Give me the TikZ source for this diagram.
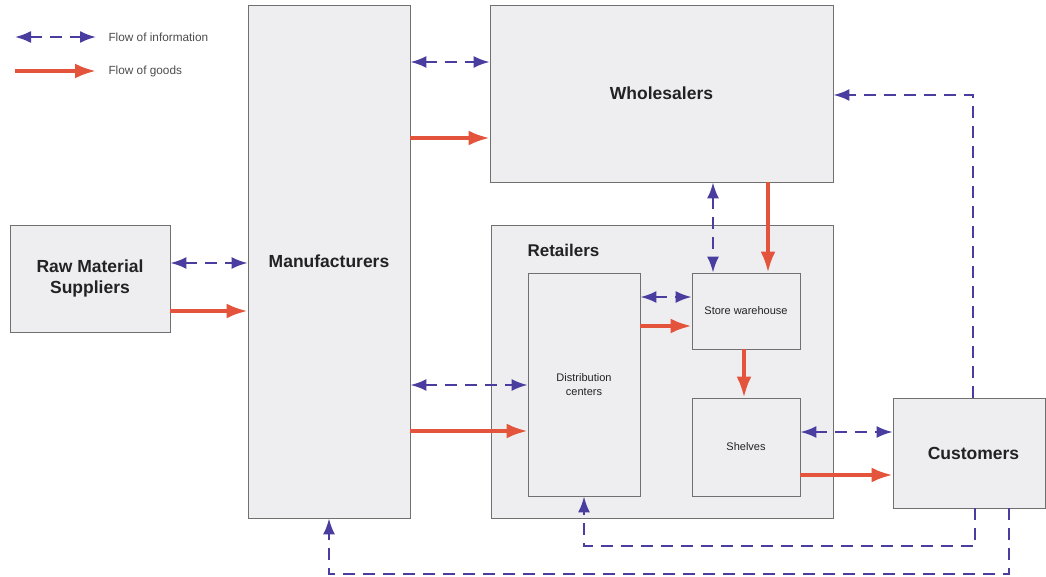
\documentclass[tikz,border=0pt]{standalone}
\usepackage{fontspec}
\setmainfont{Liberation Sans}
\usetikzlibrary{arrows.meta}
\definecolor{infoblue}{HTML}{4A3DA0}
\definecolor{goodsred}{HTML}{E4533C}
\definecolor{boxfill}{HTML}{EEEEF1}
\definecolor{boxline}{HTML}{707070}
\definecolor{labeltext}{HTML}{222222}
\tikzset{
  box/.style={draw=boxline, fill=boxfill, line width=0.9pt, inner sep=0pt,
    align=center, text=labeltext},
  bigbox/.style={box, font=\fontsize{17.5}{21}\selectfont\bfseries},
  smallbox/.style={box, font=\fontsize{11}{14}\selectfont},
  info/.style={draw=infoblue, line width=2pt, dash pattern=on 12pt off 8pt},
  infotip/.style={-{Latex[length=16pt,width=12pt]}},
  infoboth/.style={{Latex[length=16pt,width=12pt]}-{Latex[length=16pt,width=12pt]}},
  goods/.style={draw=goodsred, line width=3.5pt, -{Latex[length=21pt,width=15pt]}},
  legendtext/.style={anchor=west, font=\fontsize{11.8}{14}\selectfont, text=black!70}
}
\begin{document}
\begin{tikzpicture}[x=1pt,y=-1pt]
\useasboundingbox (0,0) rectangle (1046,577);

% legend
\coordinate (li1) at (15,37);  \coordinate (li2) at (96,37);
\coordinate (lg1) at (15,71);  \coordinate (lg2) at (96,71);
\draw[info,infoboth] (li1) -- (li2);
\draw[goods] (lg1) -- (lg2);
\node[legendtext] (lit) at (105,37) {Flow of information};
\node[legendtext] (lgt) at (105,71) {Flow of goods};

% boxes
\node[bigbox, minimum width=160pt, minimum height=107pt] (raw) at (90,278.5) {Raw Material\\Suppliers};
\node[bigbox, minimum width=162pt, minimum height=513pt] (man) at (329,261.5) {Manufacturers};
\node[bigbox, minimum width=343pt, minimum height=177pt] (wh) at (661.5,93.5) {Wholesalers};
\node[box, minimum width=342pt, minimum height=293pt] (ret) at (662,371.5) {};
\node[font=\fontsize{17}{20}\selectfont\bfseries, anchor=west, text=labeltext] (retl) at (524,250) {Retailers};
\node[smallbox, minimum width=112pt, minimum height=223pt] (dist) at (584,384.5) {Distribution\\centers};
\node[smallbox, minimum width=108pt, minimum height=76pt] (store) at (746,311) {Store warehouse};
\node[smallbox, minimum width=108pt, minimum height=98pt] (shelf) at (746,447) {Shelves};
\node[bigbox, minimum width=152pt, minimum height=110pt, text width=152pt] (cust) at (969,453) {\hspace*{9pt}Customers};

% information flows
\draw[info,infoboth] (man.east |- 0,62) -- (wh.west |- 0,62);
\draw[info,infoboth] (raw.east |- 0,263) -- (man.west |- 0,263);
\draw[info,infoboth] (man.east |- 0,385) -- (dist.west |- 0,385);
\draw[info,infoboth] (wh.south -| 713,0) -- (store.north -| 713,0);
\draw[info,infoboth] (dist.east |- 0,297) -- (store.west |- 0,297);
\draw[info,infoboth] (shelf.east |- 0,432) -- (cust.west |- 0,432);
\draw[info,infotip] (cust.north -| 973,0) |- (wh.east |- 0,95);
\draw[info,infotip] (cust.south -| 975,0) -- (975,546) -| (dist.south);
\draw[info,infotip] (cust.south -| 1009,0) -- (1009,574) -| (man.south);

% flows of goods
\draw[goods] (man.east |- 0,138) -- (wh.west |- 0,138);
\draw[goods] (raw.east |- 0,311) -- (man.west |- 0,311);
\draw[goods] (man.east |- 0,431) -- (dist.west |- 0,431);
\draw[goods] (wh.south -| 768,0) -- (store.north -| 768,0);
\draw[goods] (dist.east |- 0,326) -- (store.west |- 0,326);
\draw[goods] (store.south -| 744,0) -- (shelf.north -| 744,0);
\draw[goods] (shelf.east |- 0,475) -- (cust.west |- 0,475);
\end{tikzpicture}
\end{document}
